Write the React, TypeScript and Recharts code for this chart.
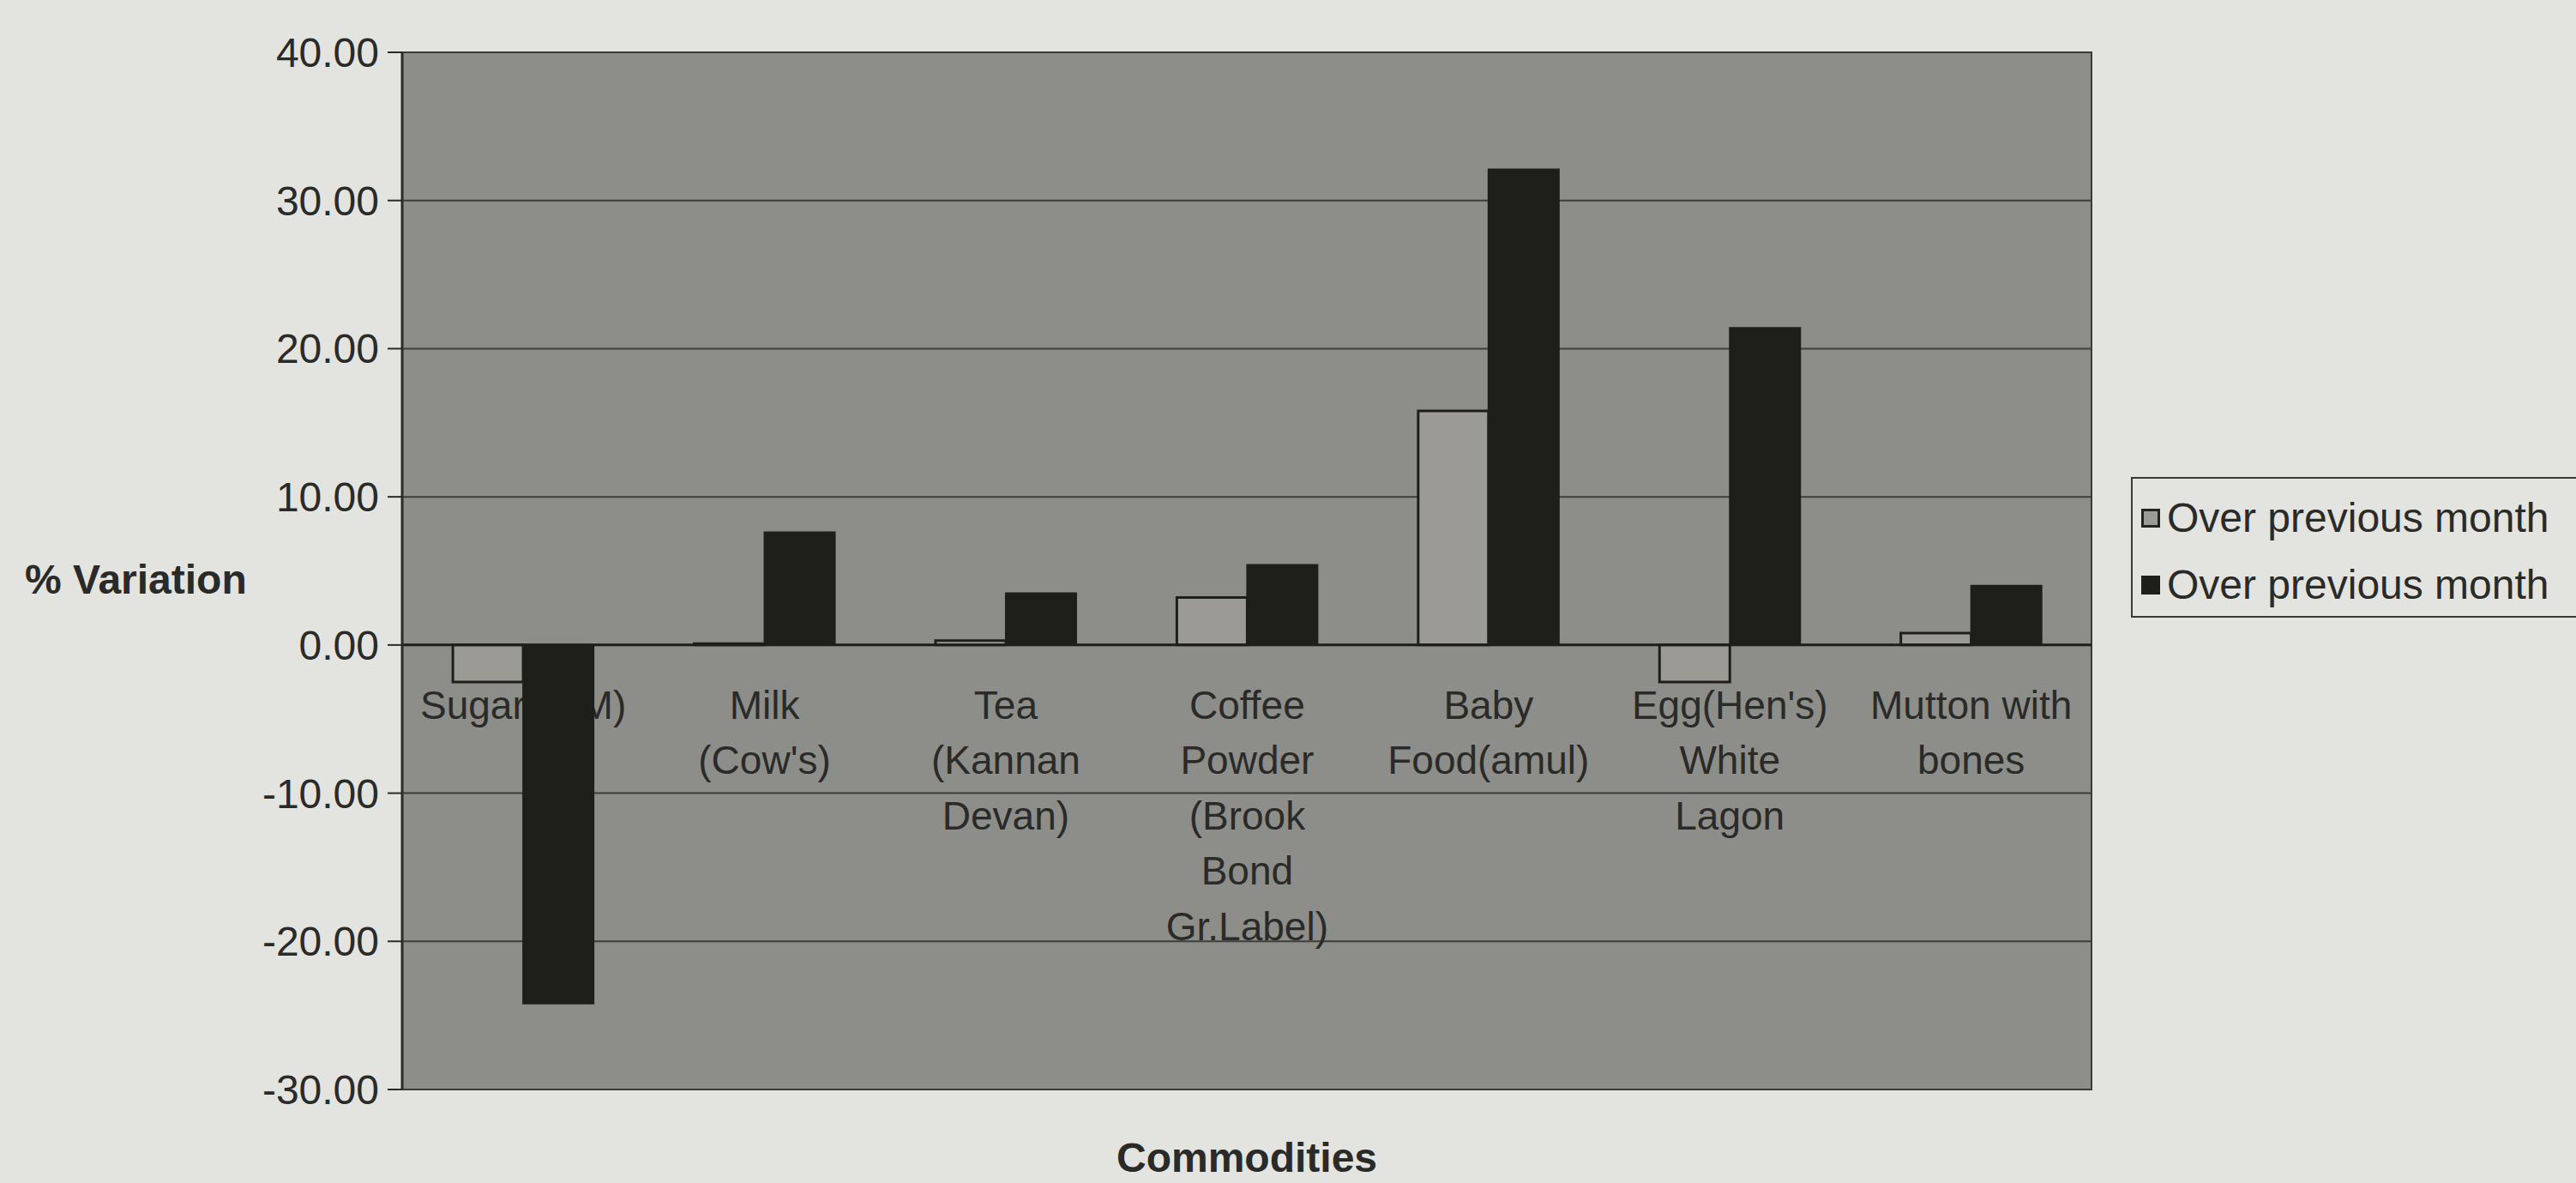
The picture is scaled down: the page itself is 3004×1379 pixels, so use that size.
import { BarChart, Bar, XAxis, YAxis, CartesianGrid, Legend, ReferenceLine, ReferenceArea, Rectangle } from 'recharts'

const categories = [
  'Sugar (OM)',
  "Milk\n(Cow's)",
  'Tea\n(Kannan\nDevan)',
  'Coffee\nPowder\n(Brook\nBond\nGr.Label)',
  'Baby\nFood(amul)',
  "Egg(Hen's)\nWhite\nLagon",
  'Mutton with\nbones',
]

const overPrevMonthA = [-2.5, 0.1, 0.3, 3.2, 15.8, -2.5, 0.8]
const overPrevMonthB = [-24.2, 7.6, 3.5, 5.4, 32.1, 21.4, 4.0]

const seriesNames = ['Over previous month', 'Over previous month']
const yTicks = [-30, -20, -10, 0, 10, 20, 30, 40]

const data = categories.map((name, i) => ({
  name,
  a: overPrevMonthA[i],
  b: overPrevMonthB[i],
}))

const W = 3004
const H = 1379
const TOP = 61
const X_AXIS_H = 109
const PLOT_H = H - TOP - X_AXIS_H
const Y_MIN = -30
const Y_MAX = 40
const ZERO_Y = TOP + (PLOT_H * Y_MAX) / (Y_MAX - Y_MIN)

const FONT = '"Liberation Sans", Arial, sans-serif'
const TEXT = '#2a2a28'
const LIGHT = '#9b9a95'
const DARK = '#1e1e1a'
const PLOT_BG = '#8d8d89'
const PAGE_BG = '#e3e3df'

// excel puts the category labels just under the zero line, inside the plot.
// they are drawn with the first series' bars so the second series paints over them
function BarWithCategory(props: any) {
  const { x, width, payload } = props
  const cx = Number(x) + Number(width)
  const lines = String(payload.name).split('\n')
  return (
    <g>
      <text x={cx} textAnchor="middle" fontFamily={FONT} fontSize={46} fill={TEXT}>
        {lines.map((l, i) => (
          <tspan key={i} x={cx} y={ZERO_Y + 86 + i * 64.5}>
            {l}
          </tspan>
        ))}
      </text>
      <Rectangle {...props} />
    </g>
  )
}

function LegendBox() {
  const items = [
    { name: seriesNames[0], fill: LIGHT, border: '#222' },
    { name: seriesNames[1], fill: DARK, border: DARK },
  ]
  return (
    <div
      style={{
        width: 540,
        height: 164,
        boxSizing: 'border-box',
        border: '2px solid #3a3a38',
        background: PAGE_BG,
        paddingTop: 7,
        paddingLeft: 10,
        fontFamily: FONT,
        fontSize: 48,
        color: TEXT,
      }}
    >
      {items.map((it, i) => (
        <div key={i} style={{ display: 'flex', alignItems: 'center', height: 78, lineHeight: '48px' }}>
          <span
            style={{
              display: 'inline-block',
              width: 22,
              height: 22,
              background: it.fill,
              border: `3px solid ${it.border}`,
              boxSizing: 'border-box',
              marginRight: 8,
            }}
          />
          <span>{it.name}</span>
        </div>
      ))}
    </div>
  )
}

export default function App() {
  return (
    <div style={{ position: 'absolute', left: 0, top: 0, width: W, height: H, background: PAGE_BG, overflow: 'hidden' }}>
      <BarChart
        width={W}
        height={H}
        data={data}
        margin={{ top: TOP, right: 565, bottom: 0, left: 0 }}
        barCategoryGap="21%"
        barGap={0}
      >
        <CartesianGrid vertical={false} fill={PLOT_BG} stroke="#3e3e3b" strokeWidth={2} />
        <XAxis
          dataKey="name"
          height={X_AXIS_H}
          axisLine={false}
          tickLine={false}
          tick={false}
          label={{
            value: 'Commodities',
            position: 'insideBottom',
            offset: 13,
            fontFamily: FONT,
            fontSize: 48,
            fontWeight: 'bold',
            fill: TEXT,
          }}
        />
        <YAxis
          width={469}
          domain={[Y_MIN, Y_MAX]}
          ticks={yTicks}
          interval={0}
          tickFormatter={(v: number) => v.toFixed(2)}
          tickSize={17}
          tickMargin={10}
          tick={{ fontFamily: FONT, fontSize: 48, fill: TEXT }}
          axisLine={{ stroke: '#2a2a28', strokeWidth: 3 }}
          tickLine={{ stroke: '#2a2a28', strokeWidth: 2 }}
          label={{
            value: '% Variation',
            position: 'insideLeft',
            offset: 29,
            dy: 9,
            fontFamily: FONT,
            fontSize: 48,
            fontWeight: 'bold',
            fill: TEXT,
          }}
        />
        <ReferenceArea y1={Y_MIN} y2={Y_MAX} fill="none" stroke="#3a3a38" strokeWidth={2} />
        <ReferenceLine y={0} stroke="#1e1e1c" strokeWidth={3} />
        <Bar
          dataKey="a"
          name={seriesNames[0]}
          fill={LIGHT}
          stroke="#1e1e1c"
          strokeWidth={3}
          shape={BarWithCategory}
          isAnimationActive={false}
        />
        <Bar dataKey="b" name={seriesNames[1]} fill={DARK} stroke={DARK} strokeWidth={2} isAnimationActive={false} />
        <Legend
          layout="vertical"
          align="center"
          verticalAlign="middle"
          content={<LegendBox />}
          wrapperStyle={{ left: 2485, top: 556, width: 540, height: 164 }}
        />
      </BarChart>
    </div>
  )
}
